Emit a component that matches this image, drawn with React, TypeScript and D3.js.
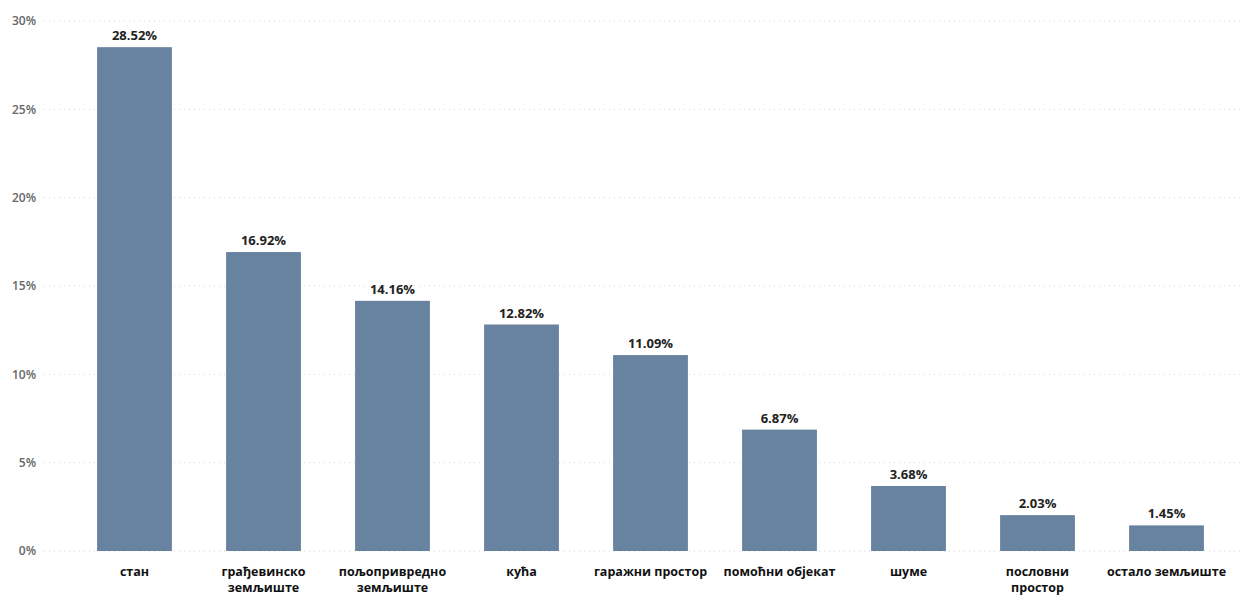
import React from "react";
import * as d3 from "d3";

const categories: string[][] = [
  ["стан"],
  ["грађевинско", "земљиште"],
  ["пољопривредно", "земљиште"],
  ["кућа"],
  ["гаражни простор"],
  ["помоћни објекат"],
  ["шуме"],
  ["пословни", "простор"],
  ["остало земљиште"],
];
const values: number[] = [28.52, 16.92, 14.16, 12.82, 11.09, 6.87, 3.68, 2.03, 1.45];
const yTicks: number[] = [0, 5, 10, 15, 20, 25, 30];

const W = 1248;
const H = 596;
const FONT = "'Open Sans', 'Noto Sans', sans-serif";

export default function App() {
  const x = d3
    .scaleBand<number>()
    .domain(values.map((_, i) => i))
    .range([70, 1231])
    .paddingInner(0.42)
    .paddingOuter(0.21);
  const y = d3.scaleLinear().domain([0, 30]).range([551, 21]);

  return (
    <svg
      width={W}
      height={H}
      style={{ position: "absolute", left: 0, top: 0, background: "#fff" }}
      fontFamily={FONT}
    >
      {yTicks.map((t) => (
        <g key={t}>
          <line
            x1={44}
            x2={1242}
            y1={y(t)}
            y2={y(t)}
            stroke="#d4d4d4"
            strokeWidth={1}
            strokeDasharray="1,4"
          />
          <text
            x={36}
            y={y(t)}
            dy="0.35em"
            textAnchor="end"
            fontSize={12}
            fontWeight={600}
            fill="#666"
          >
            {t}%
          </text>
        </g>
      ))}
      {values.map((v, i) => (
        <g key={i}>
          <rect
            x={x(i)!}
            y={y(v)}
            width={x.bandwidth()}
            height={y(0) - y(v)}
            fill="#6783a0"
          />
          <text
            x={x(i)! + x.bandwidth() / 2}
            y={y(v) - 7}
            textAnchor="middle"
            fontSize={13}
            fontWeight={700}
            fill="#222"
          >
            {v.toFixed(2)}%
          </text>
          <text
            x={x(i)! + x.bandwidth() / 2}
            y={576}
            textAnchor="middle"
            fontSize={12.5}
            fontWeight={700}
            fill="#111"
          >
            {categories[i].map((line, j) => (
              <tspan key={j} x={x(i)! + x.bandwidth() / 2} dy={j === 0 ? 0 : 16}>
                {line}
              </tspan>
            ))}
          </text>
        </g>
      ))}
    </svg>
  );
}
